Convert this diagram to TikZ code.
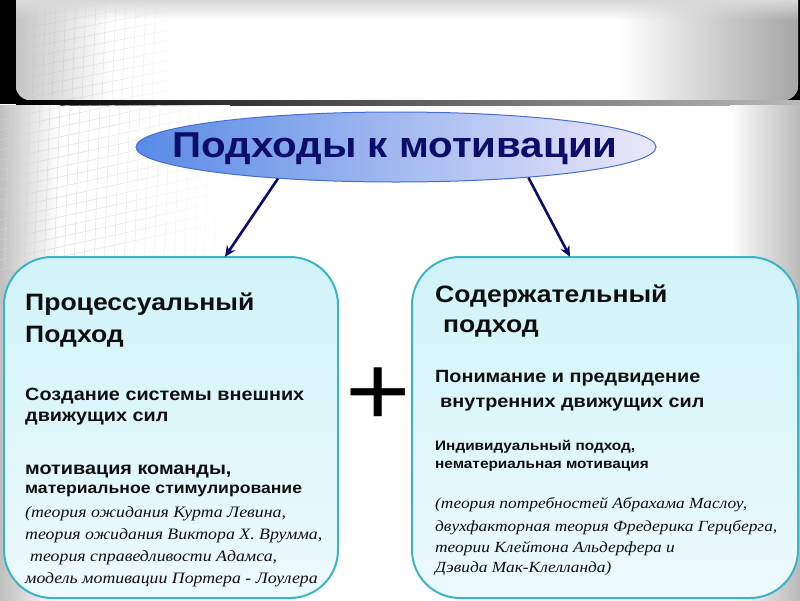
\documentclass[tikz,border=0pt]{standalone}
\usepackage{fontspec}
\setmainfont{Liberation Sans}[FakeStretch=1.12]
\newfontfamily\serifit{Liberation Serif}[FakeStretch=1.12]
\usetikzlibrary{shapes.geometric,arrows.meta,calc,fadings}
\definecolor{navy}{RGB}{12,12,105}
\definecolor{ellL}{RGB}{88,138,230}
\definecolor{ellR}{RGB}{236,232,250}
\definecolor{ellB}{RGB}{70,110,205}
\definecolor{boxT}{RGB}{208,243,248}
\definecolor{boxB}{RGB}{236,250,252}
\definecolor{boxD}{RGB}{60,180,200}
\definecolor{txt}{RGB}{15,15,15}
\tikzset{
  bigbox/.style={draw=boxD, line width=2pt, rounded corners=48pt, top color=boxT, bottom color=boxB},
  arr/.style={draw=navy, line width=2.6pt, -{Stealth[length=11pt,width=10pt]}},
  ln/.style={anchor=base west, inner sep=0pt, text=txt},
  hA/.style={ln, font=\fontsize{23.7}{28}\selectfont\bfseries},
  hB/.style={ln, font=\fontsize{17.7}{21}\selectfont\bfseries},
  hD/.style={ln, font=\fontsize{15.7}{19}\selectfont\bfseries},
  hE/.style={ln, font=\fontsize{13.7}{17}\selectfont\bfseries},
  itL/.style={ln, font=\fontsize{15.9}{19}\selectfont\serifit\itshape},
  itR/.style={ln, font=\fontsize{15.5}{19}\selectfont\serifit\itshape},
}
\begin{document}
\begin{tikzpicture}[x=1pt,y=-1pt]
\useasboundingbox (0,0) rectangle (800,600);
% background
\fill[white] (0,0) rectangle (800,600);
\fill[black] (0,0) rectangle (800,104);
\fill[white, rounded corners=14pt] (16,-20) rectangle (798,100);
\begin{scope}
  \clip[rounded corners=14pt] (16,-20) rectangle (798,100);
  \foreach \i in {0,...,14} \draw[gray!35, line width=0.5pt] (16+\i*10,0) -- (12+\i*10,100);
  \foreach \j in {0,...,10} \draw[gray!35, line width=0.5pt] (16,20+\j*10) -- (170,-10+\j*10);
  \fill[white, path fading=west] (16,0) rectangle (200,100);
  \fill[gray!45, path fading=east] (16,-20) rectangle (110,100);
  \fill[gray!70, path fading=west] (620,-20) rectangle (798,100);
  \fill[gray!30, path fading=south] (16,0) rectangle (798,20);
\end{scope}
\shade[left color=black, right color=gray!55] (16,100) rectangle (800,105);
\shade[left color=gray!50, right color=white] (0,105) rectangle (60,600);
\shade[left color=white, right color=gray!55] (730,105) rectangle (800,600);
\begin{scope}
  \clip (0,105) rectangle (230,270);
  \foreach \i in {0,...,24} \draw[gray!35, line width=0.5pt] (\i*10,105) -- (\i*10-6,270);
  \foreach \j in {0,...,16} \draw[gray!35, line width=0.5pt] (0,110+\j*10) -- (230,100+\j*10-40);
  \fill[white, path fading=west] (0,105) rectangle (230,270);
\end{scope}
% title
\node[ellipse, draw=ellB, line width=1pt, left color=ellL, right color=ellR,
      minimum width=520pt, minimum height=70pt, inner sep=0pt] (title) at (396,147) {};
\node[inner sep=0pt, text=navy, font=\fontsize{36}{40}\selectfont\bfseries] (tt) at (395,149) {Подходы к мотивации};
% boxes
\path[bigbox] (4,257) rectangle (338,598);
\node[inner sep=0pt, minimum width=334pt, minimum height=341pt] (left) at (171,427.5) {};
\path[bigbox] (412,257) rectangle (798,598);
\node[inner sep=0pt, minimum width=386pt, minimum height=341pt] (right) at (605,427.5) {};
% arrows
\draw[arr] (title.195) -- ([xshift=54pt]left.north);
\draw[arr] (title.347) -- ([xshift=-35pt]right.north);
% plus
\node[inner sep=0pt, text=black, font=\fontsize{100}{100}\selectfont] (plus) at (378,397) {+};
% left text
\node[hA] (l1) at (25,310) {Процессуальный};
\node[hA] (l2) at (25,342) {Подход};
\node[hB] (l3) at (25,400) {Создание системы внешних};
\node[hB] (l4) at (25,421) {движущих сил};
\node[hB] (l5) at (25,474) {мотивация команды,};
\node[hD] (l6) at (25,493) {материальное стимулирование};
\node[itL] (l7) at (25,517) {(теория ожидания Курта Левина,};
\node[itL] (l8) at (25,539) {теория ожидания Виктора Х. Врумма,};
\node[itL] (l9) at (30,561) {теория справедливости Адамса,};
\node[itL] (l10) at (25,583) {модель мотивации Портера - Лоулера};
% right text
\node[hA] (r1) at (435,302) {Содержательный};
\node[hA] (r2) at (443,332) {подход};
\node[hB] (r3) at (435,382) {Понимание и предвидение};
\node[hB] (r4) at (440,407) {внутренних движущих сил};
\node[hE] (r5) at (435,450) {Индивидуальный подход,};
\node[hE] (r6) at (435,468) {нематериальная мотивация};
\node[itR] (r7) at (435,508) {(теория потребностей Абрахама Маслоу,};
\node[itR] (r8) at (435,531) {двухфакторная теория Фредерика Герцберга,};
\node[itR] (r9) at (435,552) {теории Клейтона Альдерфера и};
\node[itR] (r10) at (435,572) {Дэвида Мак-Клелланда)};
\end{tikzpicture}
\end{document}
